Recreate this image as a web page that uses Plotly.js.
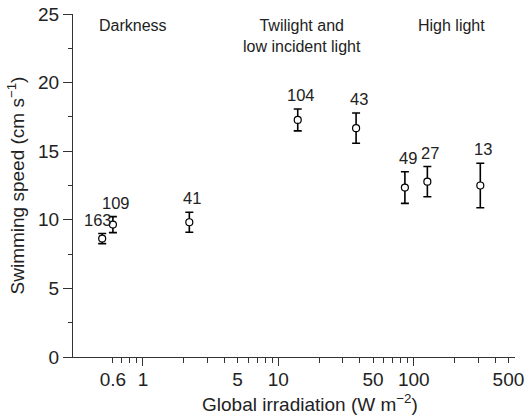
<!DOCTYPE html>
<html>
<head>
<meta charset="utf-8">
<script src="https://cdn.plot.ly/plotly-3.0.1.min.js"></script>
<style>html,body{margin:0;padding:0;background:#fff;}#chart{width:529px;height:418px;}</style>
</head>
<body>
<div id="chart"></div>
<script>
// Global irradiation (W m-2) of each group
const irradiance = [0.50, 0.60, 2.2, 13.9, 37.5, 86, 126, 310];
// Mean swimming speed (cm s-1)
const speed = [8.63, 9.65, 9.82, 17.28, 16.68, 12.35, 12.78, 12.5];
// Error (+/-)
const speedErr = [0.37, 0.585, 0.73, 0.8, 1.1, 1.15, 1.1, 1.62];
// Sample sizes
const sampleN = ['163', '109', '41', '104', '43', '49', '27', '13'];
// Light regime labels
const regionLabels = ['Darkness', 'Twilight and<br>low incident light', 'High light'];
const regionCentres = [0.85, 15, 190];
// x tick positions and labels
const xTickVals = [0.6,0.7,0.8,0.9,1,2,3,4,5,6,7,8,9,10,20,30,40,50,60,70,80,90,100,200,300,400,500];
const xTickLabelled = [0.6, 1, 5, 10, 50, 100, 500];
const xMajorTicks = [1, 10, 100];
const xTitle = 'Global irradiation (W m<sup>\u22122</sup>)';
const yTitle = 'Swimming speed (cm s<sup>\u22121</sup>)';

const FONT = 'Liberation Sans, Arial, Helvetica, sans-serif';
const xRange = [-0.5166, 2.7476];

const traces = [
  {
    x: irradiance, y: speed, type: 'scatter', mode: 'markers',
    marker: {symbol: 'circle', size: 7, color: '#fff', line: {color: '#000', width: 1.2}},
    error_y: {type: 'data', array: speedErr, visible: true, color: '#000', thickness: 1.6, width: 4},
    hoverinfo: 'skip', showlegend: false
  },
  {
    x: xMajorTicks, y: [null, null, null], xaxis: 'x2', yaxis: 'y',
    type: 'scatter', mode: 'markers', hoverinfo: 'skip', showlegend: false
  }
];

const annotations = [];
sampleN.forEach((n, i) => {
  annotations.push({
    x: Math.log10(irradiance[i]), y: speed[i] + speedErr[i], xref: 'x', yref: 'y',
    text: n, showarrow: false, xanchor: 'center', yanchor: 'bottom',
    xshift: i === 0 ? -4 : 3, yshift: 3,
    font: {family: FONT, size: 16.5, color: '#222'}
  });
});
regionLabels.forEach((t, i) => {
  annotations.push({
    x: Math.log10(regionCentres[i]), y: 1, xref: 'x', yref: 'paper',
    text: t, showarrow: false, xanchor: 'center', yanchor: 'top', yshift: -1,
    align: 'center',
    font: {family: FONT, size: 16, color: '#222'}
  });
});
// x-axis title (placed as in the reference, slightly right of centre)
annotations.push({
  x: 0.536, y: 0, xref: 'paper', yref: 'paper', text: xTitle,
  showarrow: false, xanchor: 'center', yanchor: 'bottom', yshift: -60,
  font: {family: FONT, size: 19, color: '#222'}
});

const layout = {
  width: 529, height: 418,
  margin: {l: 73, r: 14, t: 14, b: 61},
  paper_bgcolor: '#fff', plot_bgcolor: '#fff',
  font: {family: FONT, color: '#222'},
  showlegend: false,
  xaxis: {
    type: 'log', range: xRange,
    tickmode: 'array', tickvals: xTickVals,
    ticktext: xTickVals.map(v => xTickLabelled.includes(v) ? String(v) : ''),
    ticks: 'outside', ticklen: 5, tickwidth: 1, tickcolor: '#333',
    showline: true, linecolor: '#333', linewidth: 1,
    showgrid: false, zeroline: false,
    tickfont: {family: FONT, size: 19, color: '#222'}
  },
  xaxis2: {
    type: 'log', range: xRange, overlaying: 'x', anchor: 'y',
    tickmode: 'array', tickvals: xMajorTicks, showticklabels: false,
    ticks: 'outside', ticklen: 8, tickwidth: 1, tickcolor: '#333',
    showline: false, showgrid: false, zeroline: false
  },
  yaxis: {
    range: [0, 25], tickmode: 'linear', tick0: 0, dtick: 5,
    ticks: 'outside', ticklen: 9, tickwidth: 1, tickcolor: '#333',
    minor: {dtick: 2.5, tick0: 0, ticks: 'outside', ticklen: 4, tickwidth: 1, tickcolor: '#333', showgrid: false},
    showline: true, linecolor: '#333', linewidth: 1,
    showgrid: false, zeroline: false,
    tickfont: {family: FONT, size: 19, color: '#222'},
    title: {text: yTitle, font: {family: FONT, size: 19, color: '#222'}, standoff: 8}
  },
  annotations: annotations
};

Plotly.newPlot('chart', traces, layout, {displayModeBar: false, staticPlot: true});
</script>
</body>
</html>
